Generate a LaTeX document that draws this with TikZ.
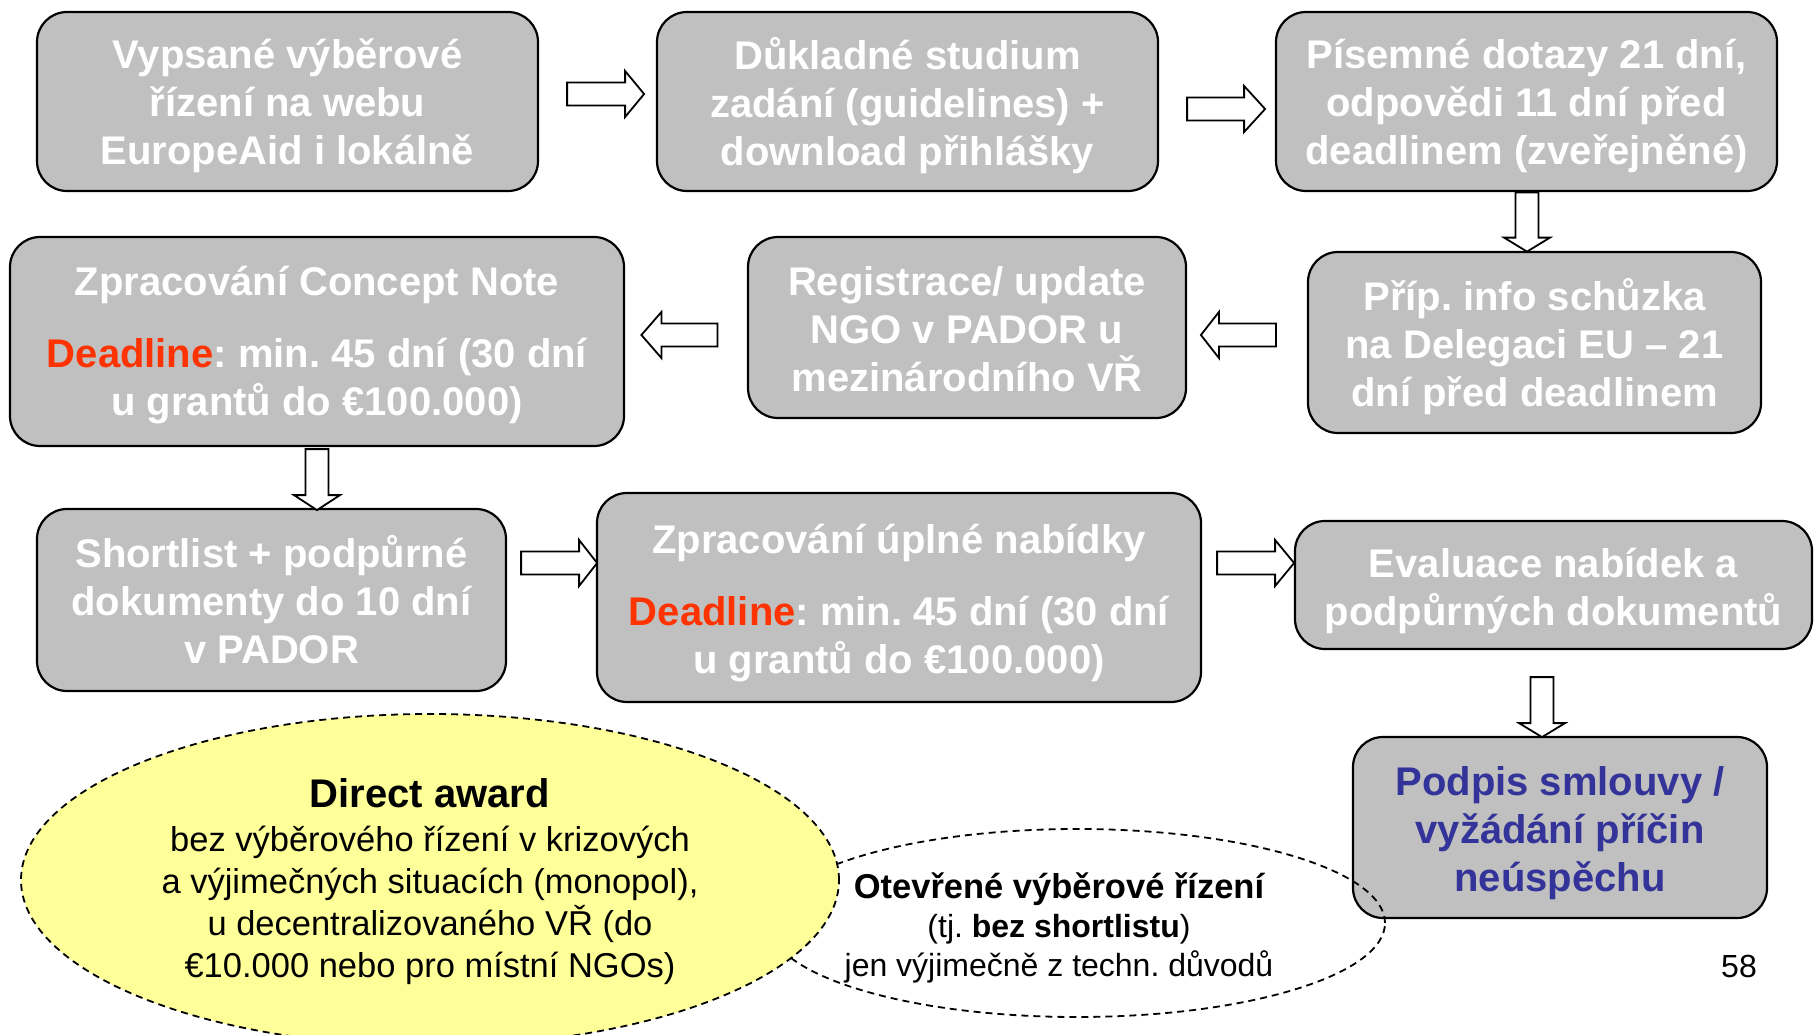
\documentclass[tikz,border=0pt]{standalone}
\usepackage{fontspec}
\setmainfont{Liberation Sans}
\usetikzlibrary{shapes.geometric,calc}
\definecolor{boxgray}{HTML}{C0C0C0}
\definecolor{dlred}{HTML}{FF3300}
\definecolor{signblue}{HTML}{333399}
\definecolor{lightyellow}{HTML}{FFFF99}
\newcommand\arrR[3]{\draw[barrow] #1 ++(0,-11.5) -- ++(#2,0) -- ++(0,-11.5) -- ++(#3,23) -- ++(-#3,23) -- ++(0,-11.5) -- ++(-#2,0) -- cycle;}
\newcommand\arrL[3]{\draw[barrow] #1 ++(0,-11.5) -- ++(-#2,0) -- ++(0,-11.5) -- ++(-#3,23) -- ++(#3,23) -- ++(0,-11.5) -- ++(#2,0) -- cycle;}
\newcommand\arrD[3]{\draw[barrow] #1 ++(-11.5,0) -- ++(0,#2) -- ++(-11.5,0) -- ++(23,#3) -- ++(23,-#3) -- ++(-11.5,0) -- ++(0,-#2) -- cycle;}
\tikzset{
  stepbox/.style={draw=black, fill=boxgray, rounded corners=30pt, line width=2.2pt, inner sep=0pt},
  boxtext/.style={text=white, font=\fontsize{40}{48}\selectfont\bfseries, align=center, inner sep=0pt},
  barrow/.style={draw=black, fill=white, line width=1.8pt, line join=miter},
  dashell/.style={ellipse, draw=black, dashed, dash pattern=on 7pt off 5pt, line width=1.8pt, inner sep=0pt},
}
\begin{document}
\frenchspacing
\begin{tikzpicture}[x=1pt,y=-1pt]
\useasboundingbox (0,0) rectangle (1814,1035);
% boxes
\node[stepbox, minimum width=501pt, minimum height=179pt] (b1) at (287.5,101.5) {};
\node[boxtext] (t1) at ($(b1.center)+(0,4)$) {Vypsané výběrové\\řízení na webu\\EuropeAid i lokálně};
\node[stepbox, minimum width=501pt, minimum height=179pt] (b2) at (907.5,101.5) {};
\node[boxtext] (t2) at ($(b2.center)+(0,4)$) {Důkladné studium\\zadání (guidelines) +\\download přihlášky};
\node[stepbox, minimum width=501pt, minimum height=179pt] (b3) at (1526.5,101.5) {};
\node[boxtext] (t3) at ($(b3.center)+(0,4)$) {Písemné dotazy 21 dní,\\odpovědi 11 dní před\\deadlinem (zveřejněné)};
\node[stepbox, minimum width=453pt, minimum height=181pt] (b4) at (1534.5,342.5) {};
\node[boxtext] (t4) at ($(b4.center)+(0,4)$) {Příp. info schůzka\\na Delegaci EU – 21\\dní před deadlinem};
\node[stepbox, minimum width=438pt, minimum height=181pt] (b5) at (967,327.5) {};
\node[boxtext] (t5) at ($(b5.center)+(0,2)$) {Registrace/ update\\NGO v PADOR u\\mezinárodního VŘ};
\node[stepbox, minimum width=614pt, minimum height=209pt] (b6) at (317,341.5) {};
\node[boxtext] (t6) at ($(b6.center)+(0,4)$) {Zpracování Concept Note\\[24pt]\textcolor{dlred}{Deadline}: min. 45 dní (30 dní\\u grantů do €100.000)};
\node[stepbox, minimum width=469pt, minimum height=182pt] (b7) at (271.5,600) {};
\node[boxtext] (t7) at ($(b7.center)+(0,0)$) {Shortlist + podpůrné\\dokumenty do 10 dní\\v PADOR};
\node[stepbox, minimum width=604pt, minimum height=209pt] (b8) at (899,597.5) {};
\node[boxtext] (t8) at ($(b8.center)+(0,6)$) {Zpracování úplné nabídky\\[24pt]\textcolor{dlred}{Deadline}: min. 45 dní (30 dní\\u grantů do €100.000)};
\node[stepbox, minimum width=517pt, minimum height=128pt] (b9) at (1553.5,585) {};
\node[boxtext] (t9) at ($(b9.center)+(0,6)$) {Evaluace nabídek a\\podpůrných dokumentů};
\node[stepbox, minimum width=414pt, minimum height=181pt] (b10) at (1560,827.5) {};
\node[boxtext, text=signblue] (t10) at ($(b10.center)+(0,6)$) {Podpis smlouvy /\\vyžádání příčin\\neúspěchu};
% block arrows
\coordinate (a1) at ($(b1.east)+(28,-7.5)$);
\coordinate (a2) at ($(b2.east)+(28,7.5)$);
\coordinate (a3) at ($(b3.south)+(0.5,0.5)$);
\coordinate (a4) at ($(b4.west)+(-31,-7.5)$);
\coordinate (a5) at ($(b5.west)+(-29.5,7.5)$);
\coordinate (a6) at ($(b6.south)+(0,2)$);
\coordinate (a7) at ($(b7.east)+(14,-37)$);
\coordinate (a8) at ($(b8.east)+(15,-34.5)$);
\coordinate (a9) at ($(b9.south)+(-11.5,27)$);
\arrR{(a1)}{58}{19}
\arrR{(a2)}{57}{21}
\arrD{(a3)}{45}{14}
\arrL{(a4)}{57}{18}
\arrL{(a5)}{56}{20}
\arrD{(a6)}{46}{15}
\arrR{(a7)}{58}{18}
\arrR{(a8)}{58}{19}
\arrD{(a9)}{46}{14}
% ellipses
\node[dashell, minimum width=616pt, minimum height=188pt] (open) at (1077,923) {};
\node[align=center, font=\fontsize{32}{39}\selectfont] (opentext) at (1059,928)
  {{\fontsize{34.5}{39}\selectfont\bfseries Otevřené výběrové řízení}\\(tj. \textbf{bez shortlistu})\\jen výjimečně z techn. důvodů};
\node[dashell, fill=lightyellow, minimum width=818pt, minimum height=332pt] (direct) at (430,880) {};
\node[align=center, font=\fontsize{34.5}{42}\selectfont] (directtext) at (430,882)
  {{\fontsize{40}{42}\selectfont\bfseries Direct award}\\[2pt]bez výběrového řízení v krizových\\a výjimečných situacích (monopol),\\u decentralizovaného VŘ (do\\€10.000 nebo pro místní NGOs)};
\node[font=\fontsize{32}{38}\selectfont] (page) at (1739,966) {58};
\end{tikzpicture}
\end{document}
